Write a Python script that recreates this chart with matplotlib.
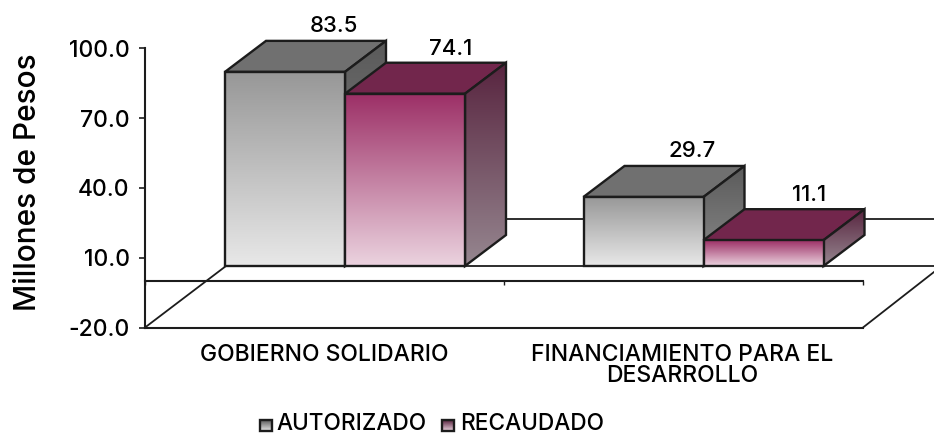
import numpy as np
import matplotlib
matplotlib.use("Agg")
import matplotlib.pyplot as plt
from matplotlib.colors import LinearSegmentedColormap
from matplotlib.patches import Polygon

categories = ["GOBIERNO SOLIDARIO", "FINANCIAMIENTO PARA EL\nDESARROLLO"]
series_names = ["AUTORIZADO", "RECAUDADO"]
autorizado = [83.5, 29.7]
recaudado = [74.1, 11.1]
y_ticks = [-20, 10, 40, 70, 100]

plt.rcParams["font.family"] = ["Inter", "DejaVu Sans"]
plt.rcParams["font.weight"] = "medium"

W, H = 934, 433
fig = plt.figure(figsize=(W / 100, H / 100), dpi=100)
ax = fig.add_axes([0, 0, 1, 1])

# pixel scale of the picture: category spacing and value scale
x_px = 358.5
y_px = 2.325
x_origin = 324.5
y_origin = 281

def X(p):
    return (p - x_origin) / x_px

def Y(p):
    return (y_origin - p) / y_px

ax.set_xlim(X(0), X(W))
ax.set_ylim(Y(H), Y(0))

# oblique depth of the 3d look
dx = 41 / x_px
dy = 31 / y_px
bar_w = 120 / x_px
base = Y(266)

ink = "#1c1c1c"
lw = 1.7

# colours per series: front top, front bottom, top face, side top, side bottom
gray = ["#979797", "#e8e8e8", "#707070", "#5a5a5a", "#8a8a8a"]
pink = ["#9c2f66", "#ebd3df", "#72264c", "#58243f", "#968790"]


def grad_poly(pts, c_top, c_bottom, z):
    pts = np.array(pts)
    cmap = LinearSegmentedColormap.from_list("g", [c_top, c_bottom])
    ext = [pts[:, 0].min(), pts[:, 0].max(), pts[:, 1].min(), pts[:, 1].max()]
    im = ax.imshow(np.linspace(0, 1, 256).reshape(-1, 1), cmap=cmap, extent=ext,
                   aspect="auto", origin="upper", zorder=z, interpolation="bilinear")
    p = Polygon(pts, closed=True, fc="none", ec=ink, lw=lw, zorder=z + 0.1, joinstyle="miter")
    ax.add_patch(p)
    im.set_clip_path(p)


def bar3d(x0, v, cols, z):
    x1 = x0 + bar_w
    top = base + v
    # top face
    ax.add_patch(Polygon([(x0, top), (x1, top), (x1 + dx, top + dy), (x0 + dx, top + dy)],
                         closed=True, fc=cols[2], ec=ink, lw=lw, zorder=z))
    # side face
    grad_poly([(x1, base), (x1 + dx, base + dy), (x1 + dx, top + dy), (x1, top)],
              cols[3], cols[4], z + 0.2)
    # front face
    grad_poly([(x0, base), (x1, base), (x1, top), (x0, top)], cols[0], cols[1], z + 0.4)


# floor and back lines
left = X(145)
right = X(863)
ax.plot([left, left + 81 / x_px], [-20, base], color=ink, lw=1.3, zorder=1)
ax.plot([left, right], [-20, -20], color=ink, lw=1.5, zorder=1)
ax.plot([right, X(W)], [-20, Y(272)], color=ink, lw=1.3, zorder=1)
ax.plot([left + 81 / x_px, X(W)], [base, base], color=ink, lw=1.3, zorder=1)
ax.plot([X(400), X(W)], [base + 20.2, base + 20.2], color=ink, lw=1.3, zorder=1)

# bars
for i in range(len(categories)):
    x0 = i + 20.5 / x_px - bar_w
    bar3d(x0, autorizado[i], gray, 2 + i * 2)
    bar3d(x0 + bar_w, recaudado[i], pink, 3 + i * 2)
    ax.text(x0 + bar_w / 2 + dx + 8 / x_px, base + autorizado[i] + dy + 2,
            f"{autorizado[i]:.1f}", ha="center", va="bottom", fontsize=16, color="black", zorder=10)
    ax.text(x0 + 1.5 * bar_w + dx + 5 / x_px, base + recaudado[i] + dy + 1.6,
            f"{recaudado[i]:.1f}", ha="center", va="bottom", fontsize=16, color="black", zorder=10)

# axes
for s in ["top", "right"]:
    ax.spines[s].set_visible(False)
ax.patch.set_visible(False)
ax.spines["left"].set_position(("data", left))
ax.spines["left"].set_bounds(-20, 100)
ax.spines["bottom"].set_position(("data", 0))
ax.spines["bottom"].set_bounds(left, right)
for s in ["left", "bottom"]:
    ax.spines[s].set_linewidth(1.5)
    ax.spines[s].set_color(ink)
    ax.spines[s].set_zorder(1)
ax.set_yticks(y_ticks)
ax.set_yticklabels([f"{t:.1f}" for t in y_ticks], fontsize=16.5)
ax.tick_params(axis="y", length=4, width=1.2, pad=7, color=ink)
ax.set_xticks([left, (left + right) / 2, right])
ax.set_xticklabels([])
ax.tick_params(axis="x", length=3, width=1, color=ink, direction="out")

# category labels
for i, c in enumerate(categories):
    ax.text(i + (0 if i == 0 else -1 / x_px), Y(344), c, ha="center", va="top", fontsize=16.5,
            linespacing=0.95, color="black")

ax.text(X(28), Y(182), "Millones de Pesos", rotation=90, ha="center", va="center",
        fontsize=21.5, color="black")

# legend
for name, cols, sq, tx in zip(series_names, [gray, pink], [260, 442], [276, 460]):
    grad_poly([(X(sq), Y(431)), (X(sq + 12), Y(431)), (X(sq + 12), Y(420)), (X(sq), Y(420))],
              cols[3], cols[1], 12)
    ax.text(X(tx), Y(423.5), name, ha="left", va="center", fontsize=16.3, color="black")

ax.set_xlim(X(0), X(W))
ax.set_ylim(Y(H), Y(0))
fig.savefig("out.png", dpi=100, facecolor="white")
